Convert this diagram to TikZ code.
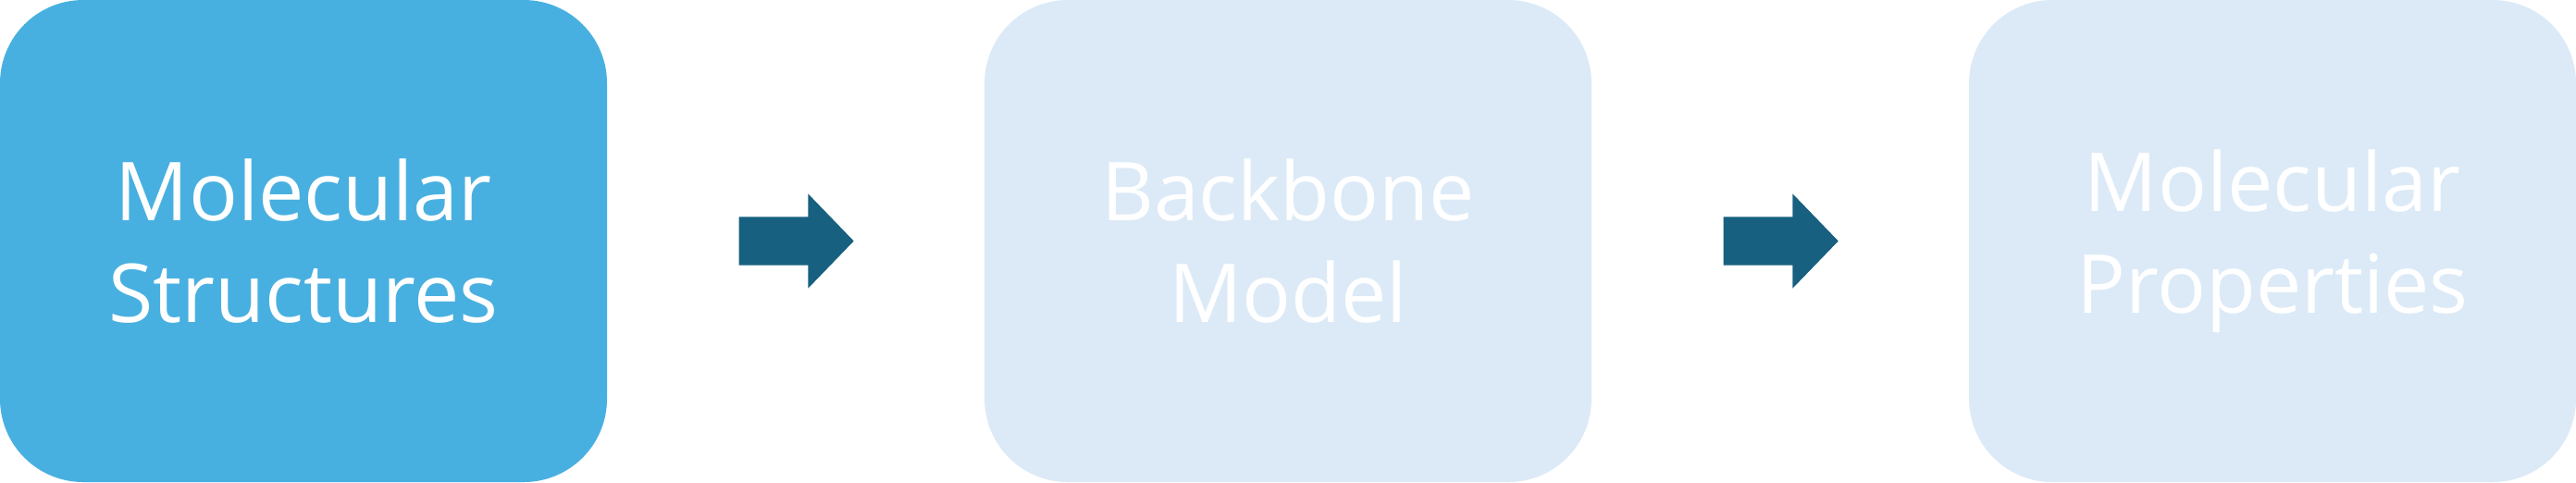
\documentclass[tikz,border=0pt]{standalone}
\usepackage{fontspec}
\setmainfont{Open Sans}
\usetikzlibrary{shapes.arrows}
\definecolor{boxblue}{HTML}{48B0E0}
\definecolor{boxpale}{HTML}{DCEAF7}
\definecolor{arrowblue}{HTML}{17607F}
\begin{document}
\begin{tikzpicture}
\tikzset{boite/.style={fill=#1, rounded corners=0.9cm, minimum width=6.56cm, minimum height=5.21cm, text=white, align=center, font=\fontsize{25}{31.3}\selectfont, inner sep=0pt}}
\tikzset{fleche/.style={single arrow, fill=arrowblue, minimum height=1.24cm, single arrow head extend=0.25cm, single arrow tip angle=92, inner xsep=0pt, inner ysep=0.255cm, anchor=tail}}
\useasboundingbox (0,0) rectangle (27.84,5.21);
\node[boite=boxblue] (B1) at (3.28,2.605) {Molecular\\Structures};
\node[boite=boxpale] (B2) at (13.92,2.605) {Backbone\\Model};
\node[boite=boxpale] (B3) at (24.56,2.605) {Molecular\\Properties};
\node[fleche] (F1) at (7.98,2.605) {};
\node[fleche] (F2) at (18.62,2.605) {};
\end{tikzpicture}
\end{document}
